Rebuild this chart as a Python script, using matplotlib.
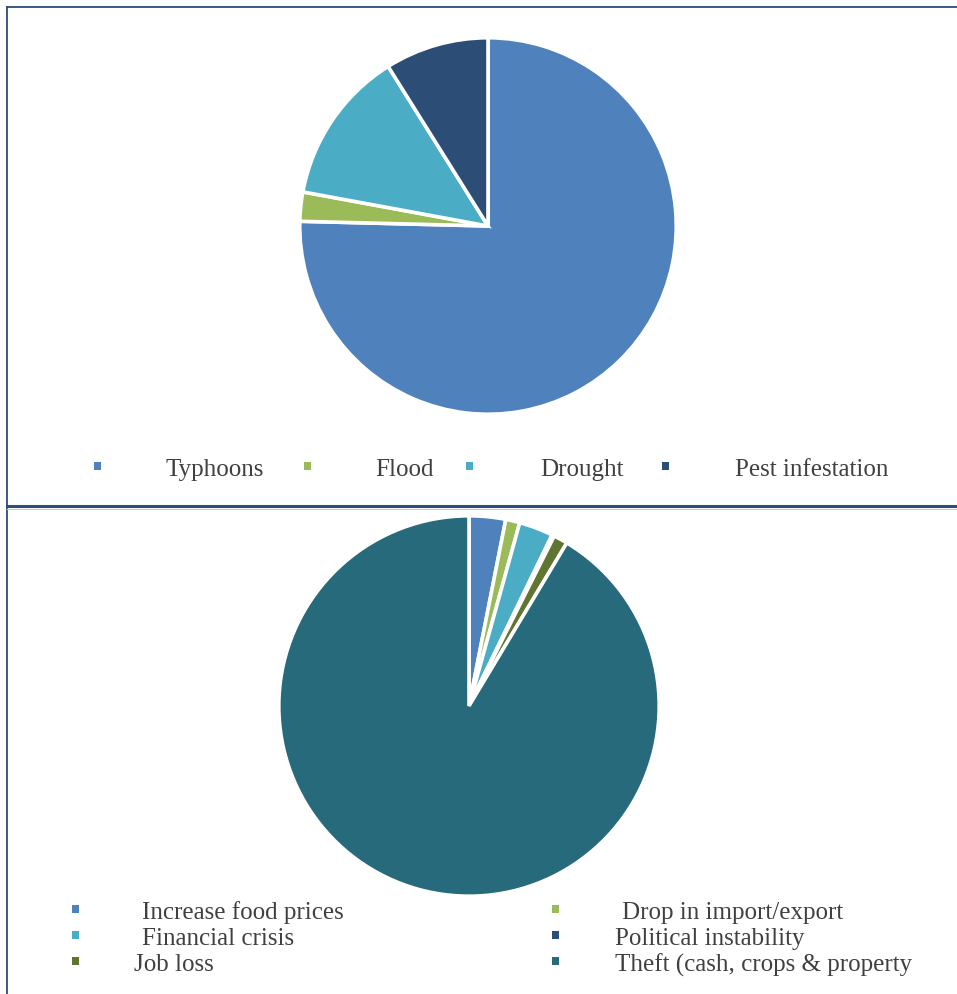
import matplotlib.pyplot as plt
from matplotlib.patches import Rectangle
from matplotlib.lines import Line2D

plt.rcParams['font.family'] = ['Liberation Serif', 'DejaVu Serif']

W, H = 957, 995

# top chart: natural hazards
hazard_labels = ['Typhoons', 'Flood', 'Drought', 'Pest infestation']
hazard_values = [75.4, 2.5, 13.2, 8.9]
hazard_colors = ['#4F81BD', '#9BBB59', '#4BACC6', '#2C4D75']

# bottom chart: economic / social shocks
shock_labels = ['Increase food prices', 'Drop in import/export', 'Financial crisis',
                'Political instability', 'Job loss', 'Theft (cash, crops & property']
shock_values = [3.1, 1.2, 2.9, 0.2, 1.2, 91.4]
shock_colors = ['#4F81BD', '#9BBB59', '#4BACC6', '#2C4D75', '#5F7530', '#276A7C']

TXT = '#404040'
LINE = '#2C4D75'


def px_axes(fig, x, y, w, h):
    '''Axes placed with pixel coordinates measured from the top-left corner.'''
    return fig.add_axes([x / W, 1 - (y + h) / H, w / W, h / H])


def fx(x):
    return x / W


def fy(y):
    return 1 - y / H


def square(fig, x, y, color):
    fig.add_artist(Rectangle((fx(x - 3.5), fy(y + 4)), 7 / W, 8 / H,
                             transform=fig.transFigure, color=color, lw=0))


def pie(ax, values, colors):
    ax.pie(values, colors=colors, startangle=90, counterclock=False,
           wedgeprops=dict(edgecolor='white', linewidth=2.6))
    ax.set_xlim(-1.02, 1.02)
    ax.set_ylim(-1.02, 1.02)
    ax.set_aspect('equal')
    ax.axis('off')


fig = plt.figure(figsize=(W / 100, H / 100), dpi=100)

# frame lines
fig.add_artist(Line2D([fx(7), fx(7)], [fy(8), fy(995)], transform=fig.transFigure,
                      color=LINE, lw=1.3))
fig.add_artist(Line2D([fx(7), fx(957)], [fy(8), fy(8)], transform=fig.transFigure,
                      color=LINE, lw=1.3))
fig.add_artist(Line2D([fx(7), fx(957)], [fy(507), fy(507)], transform=fig.transFigure,
                      color=LINE, lw=2.2))
fig.add_artist(Line2D([fx(7), fx(957)], [fy(509.5), fy(509.5)], transform=fig.transFigure,
                      color='#B8CCE4', lw=0.8))

ax1 = px_axes(fig, 296, 35, 384, 384)
pie(ax1, hazard_values, hazard_colors)

ax2 = px_axes(fig, 275, 513, 388, 388)
pie(ax2, shock_values, shock_colors)

# top legend
top_marks = [97, 307, 469, 665]
top_texts = [165, 375, 540, 735]
for lab, col, mx, tx in zip(hazard_labels, hazard_colors, top_marks, top_texts):
    square(fig, mx, 467, col)
    fig.text(fx(tx), fy(470), lab, color=TXT, fontsize=18, va='center', ha='left')

# bottom legend, two columns
bot_marks = [75, 555, 75, 555, 75, 555]
bot_texts = [142, 622, 142, 615, 134, 615]
bot_rows = [910, 910, 936, 936, 962, 962]
for lab, col, mx, tx, ry in zip(shock_labels, shock_colors, bot_marks, bot_texts, bot_rows):
    square(fig, mx, ry, col)
    fig.text(fx(tx), fy(ry + 3), lab, color=TXT, fontsize=18, va='center', ha='left')

fig.savefig('out.png', dpi=100, facecolor='white')
